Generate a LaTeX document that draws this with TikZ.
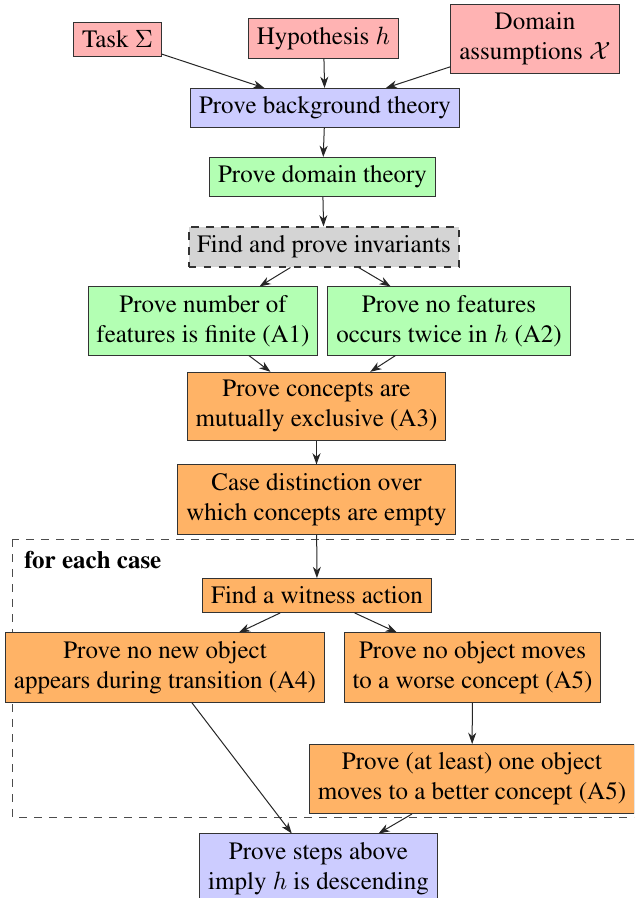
\documentclass[tikz,border=0pt]{standalone}
\usepackage[T1]{fontenc}
\usepackage{times}
\usetikzlibrary{arrows.meta}
\definecolor{cred}{RGB}{255,179,179}
\definecolor{cblue}{RGB}{204,204,255}
\definecolor{cgreen}{RGB}{179,255,179}
\definecolor{corange}{RGB}{255,179,102}
\definecolor{cgray}{RGB}{212,212,212}
\tikzset{
  box/.style={draw=black!80, align=center, font=\fontsize{10}{12}\selectfont},
  redbox/.style={box, fill=cred},
  bluebox/.style={box, fill=cblue},
  greenbox/.style={box, fill=cgreen},
  orangebox/.style={box, fill=corange},
  graybox/.style={box, fill=cgray, dashed, thick},
  conn/.style={-{Stealth[length=4.5pt,width=3.2pt,inset=1.4pt]}, black!85}
}
\begin{document}
\begin{tikzpicture}[x=0.4pt, y=-0.4pt]
\useasboundingbox (0,0) rectangle (634,898);
\clip (0,0) rectangle (634,898);
\node[redbox] (task) at (117.5,39.5) {Task $\Sigma$};
\node[redbox] (hyp) at (323.5,38.5) {Hypothesis $h$};
\node[redbox] (dom) at (535,39) {Domain\\assumptions $\mathcal{X}$};
\node[bluebox] (bg) at (325,108) {Prove background theory};
\node[greenbox] (dt) at (322.5,177) {Prove domain theory};
\node[graybox] (inv) at (324,247) {Find and prove invariants};
\node[greenbox] (a1) at (203,321) {Prove number of\\features is finite (A1)};
\node[greenbox] (a2) at (449,321) {Prove no features\\occurs twice in $h$ (A2)};
\node[orangebox] (a3) at (316.5,406.5) {Prove concepts are\\mutually exclusive (A3)};
\node[orangebox] (cd) at (316.5,499.5) {Case distinction over\\which concepts are empty};
\draw[dashed, black!70] (12,539) rectangle (660,817);
\node[anchor=west, inner sep=0pt, font=\fontsize{10}{12}\selectfont\bfseries] (fec) at (24,560) {for each case};
\node[orangebox] (wit) at (317,595.5) {Find a witness action};
\node[orangebox] (a4) at (165,667.5) {Prove no new object\\appears during transition (A4)};
\node[orangebox] (a5a) at (472.5,667.5) {Prove no object moves\\to a worse concept (A5)};
\node[orangebox] (a5b) at (472,779) {Prove (at least) one object\\moves to a better concept (A5)};
\node[bluebox] (fin) at (318.5,868.5) {Prove steps above\\imply $h$ is descending};
\draw[conn] (task) -- (bg);
\draw[conn] (hyp) -- (bg);
\draw[conn] (dom) -- (bg);
\draw[conn] (bg) -- (dt);
\draw[conn] (dt) -- (inv);
\draw[conn] (inv) -- (a1);
\draw[conn] (inv) -- (a2);
\draw[conn] (a1) -- (a3);
\draw[conn] (a2) -- (a3);
\draw[conn] (a3) -- (cd);
\draw[conn] (cd) -- (wit);
\draw[conn] (wit) -- (a4);
\draw[conn] (wit) -- (a5a);
\draw[conn] (a5a) -- (a5b);
\draw[conn] (a4) -- (fin);
\draw[conn] (a5b) -- (fin);
\end{tikzpicture}
\end{document}
